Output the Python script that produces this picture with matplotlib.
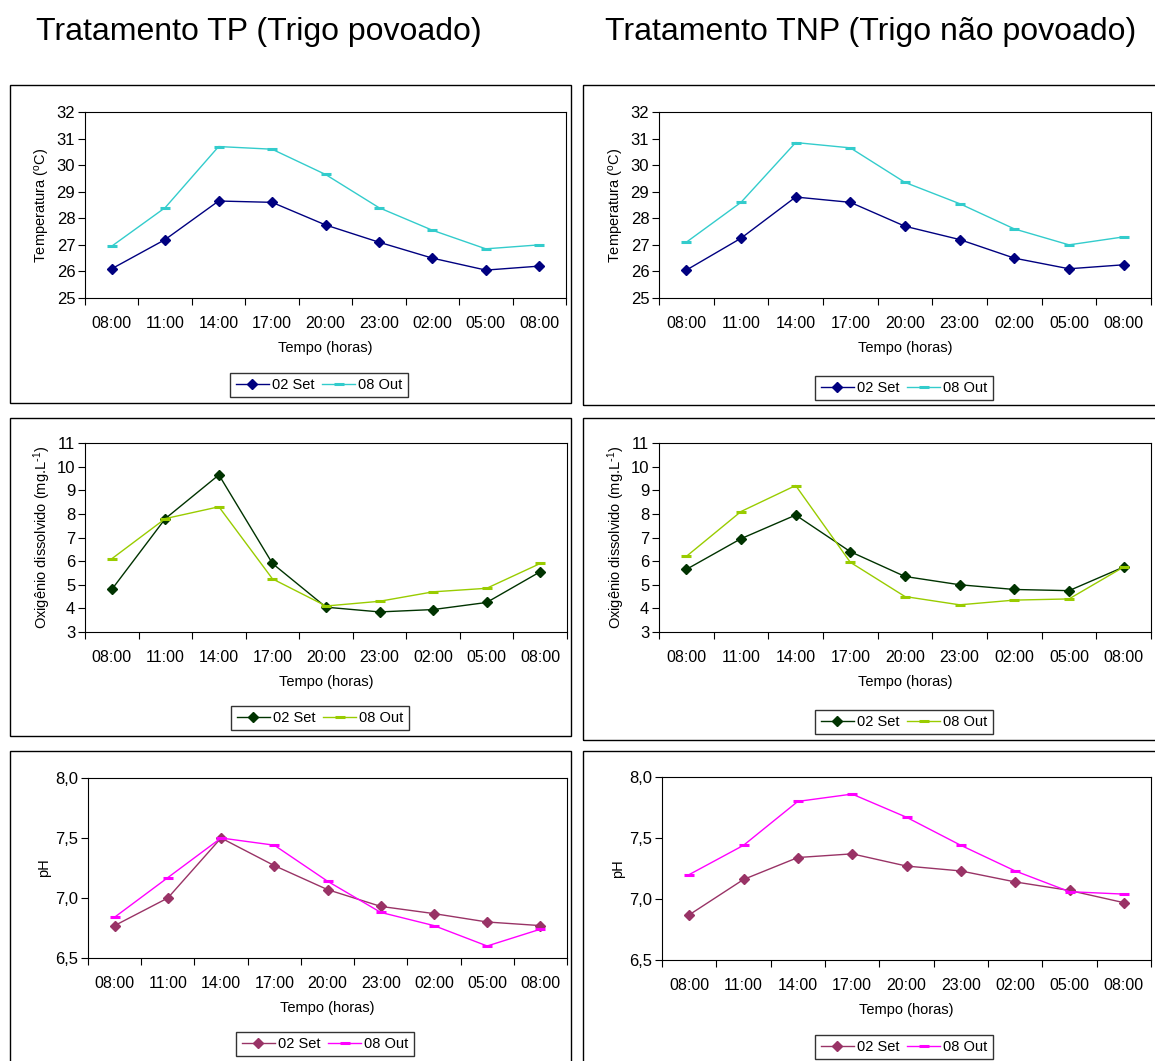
import numpy as np
import matplotlib
matplotlib.use('Agg')
import matplotlib.pyplot as plt
from matplotlib.patches import Rectangle
from matplotlib.ticker import FuncFormatter

plt.rcParams['font.family'] = ['Liberation Sans', 'DejaVu Sans']
plt.rcParams['mathtext.default'] = 'regular'

HOURS = ['08:00', '11:00', '14:00', '17:00', '20:00', '23:00', '02:00', '05:00', '08:00']
SERIES = ['02 Set', '08 Out']

# temperatura (ºC)
temp_tp_set = [26.1, 27.2, 28.65, 28.6, 27.75, 27.1, 26.5, 26.05, 26.2]
temp_tp_out = [26.95, 28.4, 30.7, 30.6, 29.65, 28.4, 27.55, 26.85, 27.0]
temp_tnp_set = [26.05, 27.25, 28.8, 28.6, 27.7, 27.2, 26.5, 26.1, 26.25]
temp_tnp_out = [27.1, 28.6, 30.85, 30.65, 29.35, 28.55, 27.6, 27.0, 27.3]

# oxigênio dissolvido (mg/L)
od_tp_set = [4.8, 7.8, 9.65, 5.9, 4.05, 3.85, 3.95, 4.25, 5.55]
od_tp_out = [6.1, 7.8, 8.3, 5.25, 4.1, 4.3, 4.7, 4.85, 5.9]
od_tnp_set = [5.65, 6.95, 7.95, 6.4, 5.35, 5.0, 4.8, 4.75, 5.75]
od_tnp_out = [6.2, 8.1, 9.2, 5.95, 4.5, 4.15, 4.35, 4.4, 5.75]

# pH
ph_tp_set = [6.77, 7.0, 7.5, 7.27, 7.07, 6.93, 6.87, 6.80, 6.77]
ph_tp_out = [6.84, 7.17, 7.5, 7.44, 7.14, 6.88, 6.77, 6.60, 6.74]
ph_tnp_set = [6.87, 7.16, 7.34, 7.37, 7.27, 7.23, 7.14, 7.07, 6.97]
ph_tnp_out = [7.2, 7.44, 7.8, 7.86, 7.67, 7.44, 7.23, 7.06, 7.04]

W, H = 1155, 1061
fig = plt.figure(figsize=(W / 100, H / 100), dpi=100)


def px(x0, y0, x1, y1):
    # pixel box (top-left origin) -> figure fraction rect
    return [x0 / W, 1 - y1 / H, (x1 - x0) / W, (y1 - y0) / H]


def frame(x0, y0, x1, y1):
    r = Rectangle((x0 / W, 1 - y1 / H), (x1 - x0) / W, (y1 - y0) / H,
                  transform=fig.transFigure, fill=False, ec='black', lw=1.0)
    fig.add_artist(r)


def panel(rect, s1, s2, c1, c2, ylabel, ylim, ystep, leg_xy, comma=False):
    ax = fig.add_axes(px(*rect))
    x = np.arange(len(HOURS))
    ax.plot(x, s1, color=c1, lw=1.0, marker='D', ms=5, mec=c1, mfc=c1, label=SERIES[0])
    ax.plot(x, s2, color=c2, lw=1.0, marker='_', ms=7, mew=2.2, mec=c2, label=SERIES[1])
    ax.set_xlim(-0.5, len(HOURS) - 0.5)
    ax.set_ylim(*ylim)
    ax.set_yticks(np.arange(ylim[0], ylim[1] + ystep / 2, ystep))
    if comma:
        ax.yaxis.set_major_formatter(FuncFormatter(lambda v, p: f'{v:.1f}'.replace('.', ',')))
    # ticks sit between categories, labels centred on each category
    ax.set_xticks(np.arange(-0.5, len(HOURS), 1))
    ax.set_xticklabels([])
    ax.set_xticks(x, minor=True)
    ax.set_xticklabels(HOURS, minor=True)
    ax.tick_params(axis='x', which='major', length=5, width=0.8, direction='out')
    ax.tick_params(axis='x', which='minor', length=0, pad=13, labelsize=11.5)
    ax.tick_params(axis='y', length=5, width=0.8, direction='out', labelsize=12, pad=2)
    for sp in ax.spines.values():
        sp.set_linewidth(0.8)
    ax.set_ylabel(ylabel, fontsize=10.5, labelpad=3)
    ax.set_xlabel('Tempo (horas)', fontsize=10.5, labelpad=7)
    leg = fig.legend(handles=ax.get_lines(), loc='center',
                     bbox_to_anchor=(leg_xy[0] / W, 1 - leg_xy[1] / H), ncol=2,
                     fontsize=10.5, frameon=True, fancybox=False, edgecolor='black',
                     handlelength=2.3, handletextpad=0.2, columnspacing=0.5,
                     borderpad=0.35, borderaxespad=0)
    leg.get_frame().set_linewidth(1.0)
    return ax


# outer boxes
frame(10, 85, 571, 403)
frame(583, 85, 1160, 405)
frame(10, 418, 571, 736)
frame(583, 418, 1160, 740)
frame(10, 751, 571, 1070)
frame(583, 751, 1160, 1070)

fig.text(259 / W, 1 - 32 / H, 'Tratamento TP (Trigo povoado)', ha='center', va='center', fontsize=23)
fig.text(871 / W, 1 - 32 / H, 'Tratamento TNP (Trigo não povoado)', ha='center', va='center', fontsize=23)

TEMP_C = ('#000080', '#33CCCC')
OD_C = ('#003300', '#99CC00')
PH_C = ('#993366', '#FF00FF')

temp_lab = 'Temperatura ($^{o}$C)'
od_lab = r'Oxigênio dissolvido (mg.L$^{\text{-}1}$)'

panel((85, 112, 566, 298), temp_tp_set, temp_tp_out, *TEMP_C, temp_lab, (25, 32), 1, (319, 385))
panel((659, 112, 1151, 298), temp_tnp_set, temp_tnp_out, *TEMP_C, temp_lab, (25, 32), 1, (904, 388))
panel((85, 443, 567, 632), od_tp_set, od_tp_out, *OD_C, od_lab, (3, 11), 1, (320, 718))
panel((659, 443, 1151, 632), od_tnp_set, od_tnp_out, *OD_C, od_lab, (3, 11), 1, (904, 722))
panel((88, 778, 567, 958), ph_tp_set, ph_tp_out, *PH_C, 'pH', (6.5, 8.0), 0.5, (325, 1044), comma=True)
panel((662, 777, 1151, 960), ph_tnp_set, ph_tnp_out, *PH_C, 'pH', (6.5, 8.0), 0.5, (904, 1047), comma=True)

fig.savefig('out.png', dpi=100)
